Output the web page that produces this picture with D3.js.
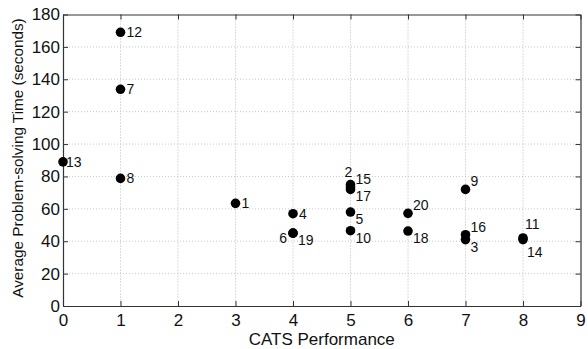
<!DOCTYPE html>
<html><head><meta charset="utf-8">
<script src="https://cdn.jsdelivr.net/npm/d3@7"></script>
<style>body{margin:0;background:#fff}svg{display:block}text{font-family:"Liberation Sans",Arial,sans-serif}</style>
</head><body><svg id="c" width="588" height="349"></svg>
<script>
const ids   = [1,2,3,4,5,6,7,8,9,10,11,12,13,14,15,16,17,18,19,20];
const cats  = [3,5,7,4,5,4,1,1,7,5,8,1,0,8,5,7,5,6,4,6];
const times = [63.4,75,41,57,58,45,133.8,78.8,72,46.5,42,169,89,41,73.5,44,72,46.3,45,57.2];
const labelPos = ["r","u","dr","r","dr","l","r","r","ur","dr","a","r","rc","b","ur","ur","dr","dr","dr","ur"];
const xTicks = [0,1,2,3,4,5,6,7,8,9];
const yTicks = [0,20,40,60,80,100,120,140,160,180];

const svg = d3.select("#c");
const L=63, R=580.5, T=14.5, B=306;
const x = d3.scaleLinear().domain([0,9]).range([L,R]);
const y = d3.scaleLinear().domain([0,180]).range([B,T]);

// grid
const g = svg.append("g");
g.selectAll(".gx").data(xTicks.slice(1,-1)).enter().append("line")
  .attr("x1",d=>x(d)).attr("x2",d=>x(d)).attr("y1",T).attr("y2",B)
  .attr("stroke","#b8b8b8").attr("stroke-width",1).attr("stroke-dasharray","1,2");
g.selectAll(".gy").data(yTicks.slice(1,-1)).enter().append("line")
  .attr("y1",d=>y(d)).attr("y2",d=>y(d)).attr("x1",L).attr("x2",R)
  .attr("stroke","#c8c8c8").attr("stroke-width",1).attr("stroke-dasharray","1,2");

// axes
const fs = "17px";
const xa = svg.append("g").attr("transform",`translate(0,${B})`)
  .call(d3.axisBottom(x).tickValues(xTicks).tickSizeInner(-5).tickSizeOuter(0).tickPadding(8));
const xt = svg.append("g").attr("transform",`translate(0,${T})`)
  .call(d3.axisTop(x).tickValues(xTicks).tickSizeInner(-5).tickSizeOuter(0).tickFormat(""));
const ya = svg.append("g").attr("transform",`translate(${L},0)`)
  .call(d3.axisLeft(y).tickValues(yTicks).tickSizeInner(-5).tickSizeOuter(0).tickPadding(3));
const yr = svg.append("g").attr("transform",`translate(${R},0)`)
  .call(d3.axisRight(y).tickValues(yTicks).tickSizeInner(-5).tickSizeOuter(0).tickFormat(""));
[xa,xt,ya,yr].forEach(a=>{
  a.select(".domain").attr("stroke","#333").attr("stroke-width",1.2);
  a.selectAll(".tick line").attr("stroke","#333");
  a.selectAll("text").attr("font-size",fs).attr("fill","#111").style("font-family","Liberation Sans, Arial, sans-serif");
});
xa.selectAll("text").attr("dy","0.71em");

// points
const pts = ids.map((id,i)=>({id,c:cats[i],t:times[i],p:labelPos[i]}));
svg.append("g").selectAll("circle").data(pts).enter().append("circle")
  .attr("cx",d=>x(d.c)).attr("cy",d=>y(d.t)).attr("r",4.8).attr("fill","#000");

const off = {r:[6,5,"start"], rc:[3,5,"start"], l:[-6,10,"end"], u:[-2,-8,"middle"],
             ur:[5,-3,"start"], dr:[5,12,"start"], a:[2,-9,"start"], b:[4,17,"start"]};
svg.append("g").selectAll("text").data(pts).enter().append("text")
  .attr("x",d=>x(d.c)+off[d.p][0]).attr("y",d=>y(d.t)+off[d.p][1])
  .attr("text-anchor",d=>off[d.p][2]).attr("font-size","14px").attr("fill","#111")
  .text(d=>d.id);

// titles
svg.append("text").attr("x",(L+R)/2).attr("y",344.5).attr("text-anchor","middle")
  .attr("font-size","17px").attr("fill","#111").text("CATS Performance");
svg.append("text").attr("transform",`translate(23,158) rotate(-90)`).attr("text-anchor","middle")
  .attr("font-size","15.3px").attr("fill","#111").text("Average Problem-solving Time (seconds)");
</script></body></html>
